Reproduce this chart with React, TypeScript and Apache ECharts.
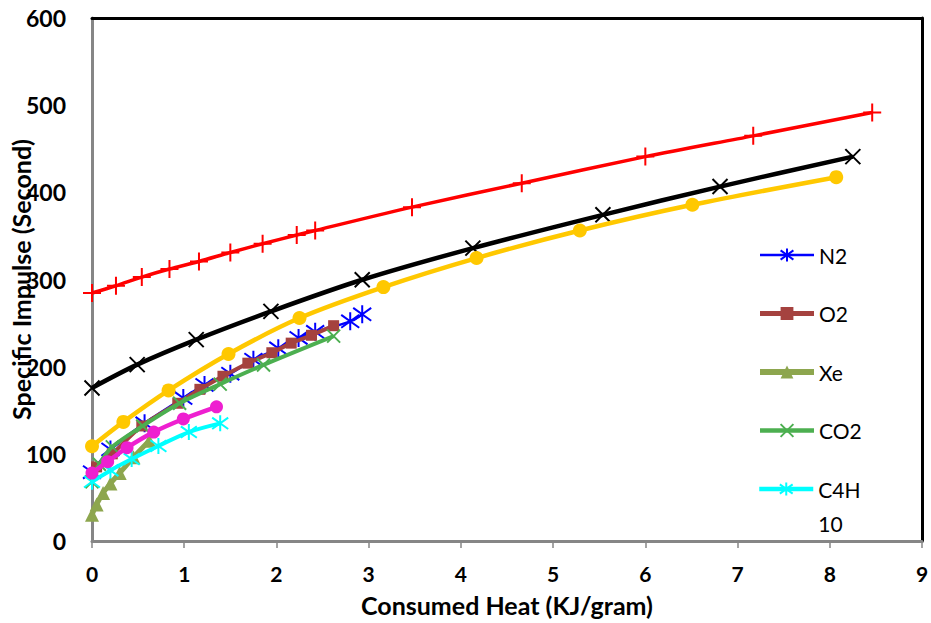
import React, { useEffect, useRef } from "react";
import * as echarts from "echarts";

// ---- Data (x: Consumed Heat KJ/gram, y: Specific Impulse s) ----
const xTicks = [0, 1, 2, 3, 4, 5, 6, 7, 8, 9];
const yTicks = [0, 100, 200, 300, 400, 500, 600];

const redSeries: [number, number][] = [
  [0, 284.5], [0.26, 292.8], [0.54, 302.8], [0.84, 312], [1.16, 320.7], [1.5, 331],
  [1.85, 341], [2.22, 351], [2.42, 356.2], [3.47, 383], [4.66, 410.5], [6.0, 441],
  [7.17, 464.8], [8.46, 491.5],
];
const blackSeries: [number, number][] = [
  [0, 175.6], [0.49, 202.3], [1.13, 231], [1.94, 263.4], [2.93, 299.7], [4.13, 336],
  [5.54, 374.2], [6.81, 406.6], [8.25, 441],
];
const yellowSeries: [number, number][] = [
  [0, 108.7], [0.34, 136.6], [0.83, 172.8], [1.48, 214.6], [2.25, 255.8], [3.16, 291.3],
  [4.17, 324.6], [5.29, 356.2], [6.51, 385.7], [8.07, 417.4],
];
const n2Series: [number, number][] = [
  [0, 79], [0.2, 105], [0.57, 135], [0.99, 164], [1.22, 179], [1.5, 192], [1.75, 208],
  [2.02, 221], [2.24, 233], [2.42, 240], [2.8, 252], [2.93, 260],
];
const o2Series: [number, number][] = [
  [0.05, 85], [0.22, 100], [0.54, 132], [0.93, 158], [1.17, 174], [1.42, 189],
  [1.69, 204], [1.95, 216], [2.16, 227], [2.38, 236], [2.62, 247],
];
const xeSeries: [number, number][] = [
  [0, 30], [0.05, 42], [0.12, 55], [0.2, 66], [0.3, 78], [0.45, 96], [0.62, 115],
];
const co2Series: [number, number][] = [
  [0, 68], [0.08, 88], [0.22, 108], [0.55, 132], [0.95, 158], [1.39, 180], [1.86, 202],
  [2.62, 235],
];
const c4h10Series: [number, number][] = [
  [0, 68], [0.2, 81], [0.43, 94], [0.72, 109], [1.05, 125], [1.39, 135],
];
const magentaSeries: [number, number][] = [
  [0, 78], [0.17, 91], [0.38, 107], [0.67, 125], [0.99, 140], [1.35, 154],
];

// ---- Symbols ----
const PLUS = "path://M5,0L5,10M0,5L10,5";
const CROSS = "path://M0,0L10,10M10,0L0,10";
const STAR = "path://M0,0L10,10M10,0L0,10M5,-2L5,12";

const FONT = "Lato";

function lineSeries(
  name: string,
  data: [number, number][],
  color: string,
  symbol: string,
  symbolSize: number,
  width: number,
  stroked: boolean,
  z: number
) {
  return {
    name,
    type: "line",
    data,
    smooth: 0.3,
    symbol,
    symbolSize,
    z,
    lineStyle: { color, width },
    itemStyle: stroked
      ? { color, borderColor: color, borderWidth: 2 }
      : { color, borderWidth: 0 },
    emphasis: { disabled: true },
  };
}

export default function App() {
  const ref = useRef<HTMLDivElement>(null);

  useEffect(() => {
    if (!ref.current) return;
    const chart = echarts.init(ref.current, null, { renderer: "svg" });

    const series = [
      lineSeries("N2", n2Series, "#0000FF", STAR, 18, 2.5, true, 2),
      lineSeries("O2", o2Series, "#A5423F", "rect", 11, 4, false, 3),
      lineSeries("Xe", xeSeries, "#8DA64E", "triangle", 14, 5, false, 4),
      lineSeries("CO2", co2Series, "#4CAF50", CROSS, 13, 4, true, 5),
      lineSeries("C4H10", c4h10Series, "#00FFFF", STAR, 16, 4, true, 6),
      lineSeries("Series A", redSeries, "#FF0000", PLUS, 18, 3.5, true, 7),
      lineSeries("Series B", blackSeries, "#000000", CROSS, 15, 4.5, true, 8),
      lineSeries("Series C", yellowSeries, "#FFC800", "circle", 14, 4.5, false, 9),
      lineSeries("Series D", magentaSeries, "#EE1FD0", "circle", 13, 4.5, false, 10),
    ];

    const legendItem = (name: string, w: number) => ({
      name,
      lineStyle: { width: w },
    });

    chart.setOption({
      animation: false,
      backgroundColor: "#ffffff",
      grid: {
        left: 92,
        right: 9,
        top: 18,
        bottom: 82,
        containLabel: false,
        outerBoundsMode: "none",
      },
      legend: [
        {
          orient: "vertical",
          left: 757,
          top: 243,
          padding: 0,
          itemGap: 34.5,
          itemWidth: 54,
          itemHeight: 16,
          selectedMode: false,
          data: [
            legendItem("N2", 2.5),
            legendItem("O2", 5),
            legendItem("Xe", 6),
            legendItem("CO2", 4.5),
          ],
          textStyle: { fontFamily: FONT, fontSize: 21, color: "#000", lineHeight: 24 },
        },
        {
          orient: "vertical",
          left: 757,
          top: 438,
          padding: 0,
          itemWidth: 54,
          itemHeight: 16,
          selectedMode: false,
          data: [legendItem("C4H10", 4.5)],
          formatter: (n: string) => (n === "C4H10" ? "\nC4H\n10" : n),
          textStyle: {
            fontFamily: FONT,
            fontSize: 21,
            color: "#000",
            lineHeight: 34,
          },
        },
      ],
      xAxis: [
        {
          type: "value",
          min: xTicks[0],
          max: xTicks[xTicks.length - 1],
          interval: 1,
          name: "Consumed Heat (KJ/gram)",
          nameLocation: "middle",
          nameGap: 51,
          nameMoveOverlap: false,
          nameTextStyle: { fontFamily: FONT, fontSize: 25, fontWeight: "bold", color: "#000" },
          axisLine: { show: true, onZero: false, lineStyle: { color: "#868686", width: 3 } },
          axisTick: { show: true, inside: false, length: 7, lineStyle: { color: "#868686", width: 1.5 } },
          axisLabel: { fontFamily: FONT, fontSize: 21, fontWeight: "bold", color: "#000", margin: 22 },
          splitLine: { show: false },
        },
        {
          type: "value",
          position: "top",
          min: xTicks[0],
          max: xTicks[xTicks.length - 1],
          interval: 1,
          axisLine: { show: true, onZero: false, lineStyle: { color: "#000", width: 3 } },
          axisTick: { show: false },
          axisLabel: { show: false },
          splitLine: { show: false },
        },
      ],
      yAxis: [
        {
          type: "value",
          min: yTicks[0],
          max: yTicks[yTicks.length - 1],
          interval: 100,
          name: "Specific Impulse (Second)",
          nameLocation: "middle",
          nameGap: 59,
          nameRotate: 90,
          nameMoveOverlap: false,
          nameTextStyle: { fontFamily: FONT, fontSize: 25, fontWeight: "bold", color: "#000" },
          axisLine: { show: true, onZero: false, lineStyle: { color: "#868686", width: 3 } },
          axisTick: { show: false },
          axisLabel: { fontFamily: FONT, fontSize: 23, fontWeight: "bold", color: "#000", margin: 26 },
          splitLine: { show: false },
        },
        {
          type: "value",
          position: "right",
          min: yTicks[0],
          max: yTicks[yTicks.length - 1],
          interval: 100,
          axisLine: { show: true, onZero: false, lineStyle: { color: "#000", width: 3 } },
          axisTick: { show: false },
          axisLabel: { show: false },
          splitLine: { show: false },
        },
      ],
      series,
    });

    return () => chart.dispose();
  }, []);

  return (
    <div
      ref={ref}
      style={{ position: "fixed", left: 0, top: 0, width: 931, height: 623, background: "#fff" }}
    />
  );
}
